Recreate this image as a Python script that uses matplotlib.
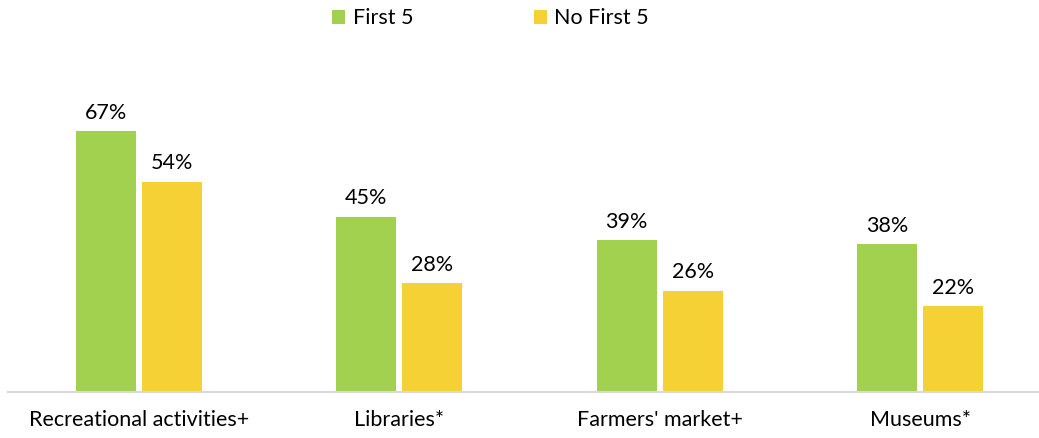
import numpy as np
import matplotlib
matplotlib.use('Agg')
import matplotlib.pyplot as plt

# Data
categories = ['Recreational activities+', 'Libraries*', "Farmers' market+", 'Museums*']
first5 = [67, 45, 39, 38]
no_first5 = [54, 28, 26, 22]
series_names = ['First 5', 'No First 5']
colors = ['#A2D150', '#F6D136']

plt.rcParams['font.family'] = ['Lato', 'DejaVu Sans']

W, H = 1039, 438
fig = plt.figure(figsize=(W / 100, H / 100), dpi=100)
# axes from x=8px to 1039px, y from 50px to 392px (top-down)
ax = fig.add_axes([8 / W, (H - 392) / H, (W - 8) / W, (392 - 50) / H])

x = np.arange(len(categories))
width = 0.23
offset = 0.1267

bars1 = ax.bar(x - offset, first5, width, color=colors[0], label=series_names[0])
bars2 = ax.bar(x + offset, no_first5, width, color=colors[1], label=series_names[1])

for bars in (bars1, bars2):
    for bar in bars:
        h = bar.get_height()
        ax.annotate(f'{h:.0f}%', (bar.get_x() + bar.get_width() / 2, h),
                    xytext=(0, 6), textcoords='offset points',
                    ha='center', va='bottom', fontsize=15.5, color='#000000')

ax.set_xlim(-0.503, 3.457)
ax.set_ylim(0, 87.8)
ax.set_xticks(x)
ax.set_xticklabels(categories, fontsize=15.5, color='#000000')
ax.tick_params(axis='x', length=0, pad=13)
ax.set_yticks([])
for side in ('top', 'right', 'left'):
    ax.spines[side].set_visible(False)
ax.spines['bottom'].set_color('#D9D9D9')
ax.spines['bottom'].set_linewidth(1.5)

fig.legend(loc='upper center', bbox_to_anchor=(0.472, 1.025), ncol=2, frameon=False,
           fontsize=15.5, handlelength=0.6, handleheight=0.6, handletextpad=0.35,
           columnspacing=5.6)

fig.savefig('out.png', dpi=100, facecolor='white')
plt.close(fig)
